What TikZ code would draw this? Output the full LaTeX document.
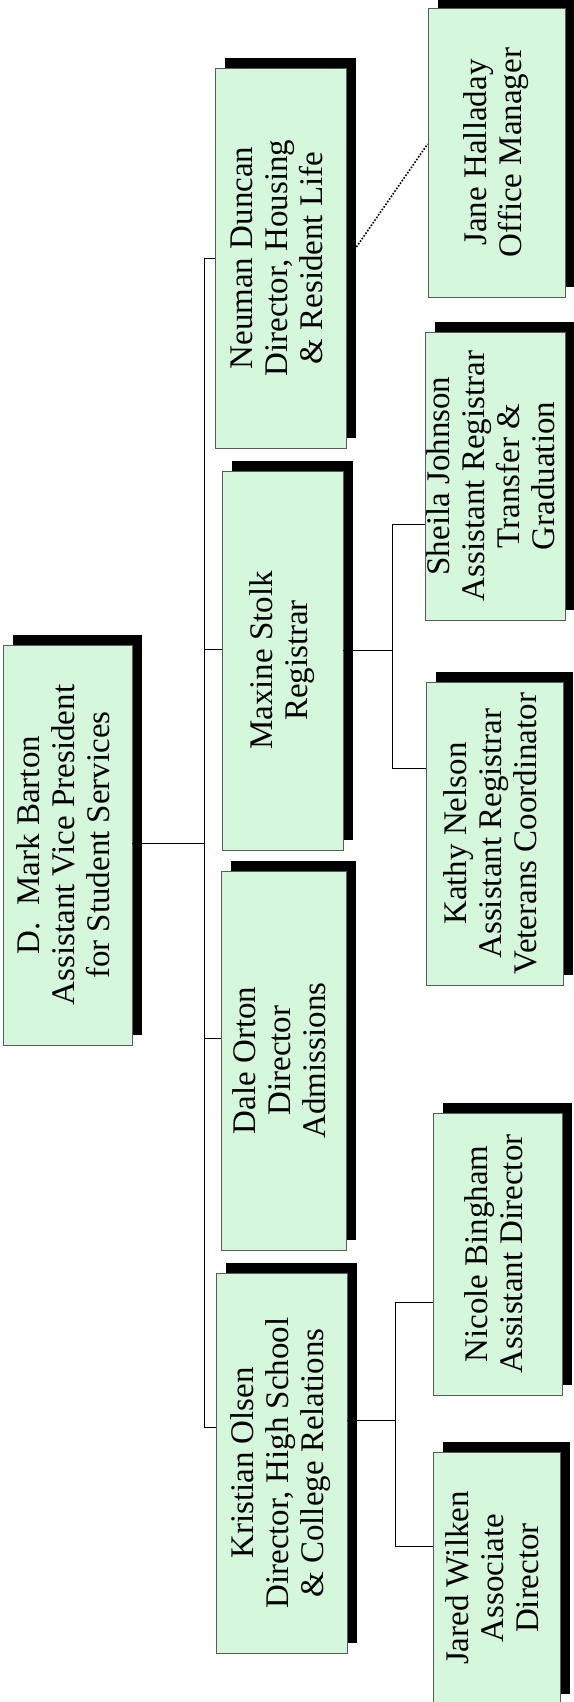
\documentclass[tikz,border=0pt]{standalone}
\usepackage{fontspec}
\setmainfont{Liberation Serif}
\usepackage{graphicx}
\usetikzlibrary{shadows}
\definecolor{boxfill}{RGB}{213,248,221}
\definecolor{boxborder}{RGB}{90,90,90}
\newcommand\vtext[1]{\rotatebox{90}{\fontsize{33}{35}\selectfont\begin{tabular}{@{}c@{}}#1\end{tabular}}}
\tikzset{
  box/.style={draw=boxborder, line width=0.8pt, fill=boxfill, inner sep=0pt,
    drop shadow={shadow xshift=10pt, shadow yshift=10pt, fill=black, opacity=1, draw=none}},
  conn/.style={draw=black, line width=0.8pt},
  dotconn/.style={draw=black, line width=1.6pt, dash pattern=on 1.6pt off 1.6pt},
}
\begin{document}
\begin{tikzpicture}[x=1pt, y=-1pt]
\fill[white] (0,0) rectangle (573,1702);
\useasboundingbox (0,0) rectangle (573,1702);
% boxes
\node[box, minimum width=129pt, minimum height=400pt] (barton) at (67.5,845)
  {\vtext{D.\ \ Mark Barton\\Assistant Vice President\\for Student Services}};
\node[box, minimum width=131pt, minimum height=380pt] (neuman) at (280.5,258)
  {\vtext{Neuman Duncan\\Director, Housing\\\& Resident Life}};
\node[box, minimum width=121pt, minimum height=379pt] (maxine) at (282.5,660.5)
  {\vtext{Maxine Stolk\\Registrar}};
\node[box, minimum width=125pt, minimum height=379pt] (dale) at (283.5,1060.5)
  {\vtext{Dale Orton\\Director\\Admissions}};
\node[box, minimum width=131pt, minimum height=380pt] (kristian) at (281.5,1463)
  {\vtext{Kristian Olsen\\Director, High School\\\& College Relations}};
\node[box, minimum width=137pt, minimum height=289pt] (jane) at (496.5,152.5)
  {\vtext{Jane Halladay\\Office Manager}};
\node[box, minimum width=136pt, minimum height=288pt] (sheila) at (495,476)
  {\vtext{Sheila Johnson\\Assistant Registrar\\Transfer \&\\Graduation}};
\node[box, minimum width=137pt, minimum height=303pt] (kathy) at (494.5,833.5)
  {\vtext{Kathy Nelson\\Assistant Registrar\\Veterans Coordinator}};
\node[box, minimum width=129pt, minimum height=282pt] (nicole) at (497.5,1254)
  {\vtext{Nicole Bingham\\Assistant Director}};
\node[box, minimum width=127pt, minimum height=252pt] (jared) at (496.5,1578)
  {\vtext{Jared Wilken\\Associate\\Director}};
% main bus
\coordinate (bus) at (204,843);
\coordinate (mxw) at ([yshift=11.5pt]maxine.west);
\coordinate (dlw) at ([yshift=22.5pt]dale.west);
\coordinate (krw) at ([yshift=36pt]kristian.west);
\draw[conn] (barton.east |- bus) -- (bus);
\draw[conn] (neuman.west) -- (neuman.west -| bus) -- (krw -| bus) -- (krw);
\draw[conn] (mxw -| bus) -- (mxw);
\draw[conn] (dlw -| bus) -- (dlw);
% registrar group
\coordinate (rbus) at (392,650);
\coordinate (mxe) at ([yshift=10.5pt]maxine.east);
\coordinate (shw) at ([yshift=-48pt]sheila.west);
\coordinate (kaw) at ([yshift=65.5pt]kathy.west);
\draw[conn] (mxe) -- (mxe -| rbus);
\draw[conn] (shw) -- (shw -| rbus) -- (kaw -| rbus) -- (kaw);
% high school group
\coordinate (kbus) at (395,1420);
\coordinate (kre) at ([yshift=43pt]kristian.east);
\coordinate (niw) at ([yshift=-48pt]nicole.west);
\coordinate (jaw) at ([yshift=32pt]jared.west);
\draw[conn] (kre) -- (kre -| kbus);
\draw[conn] (niw) -- (niw -| kbus) -- (jaw -| kbus) -- (jaw);
% dotted line
\coordinate (nde) at ([xshift=10pt,yshift=11pt]neuman.east);
\coordinate (jaw2) at ([yshift=8.5pt]jane.west);
\draw[dotconn] (nde) -- (jaw2);
\end{tikzpicture}
\end{document}
